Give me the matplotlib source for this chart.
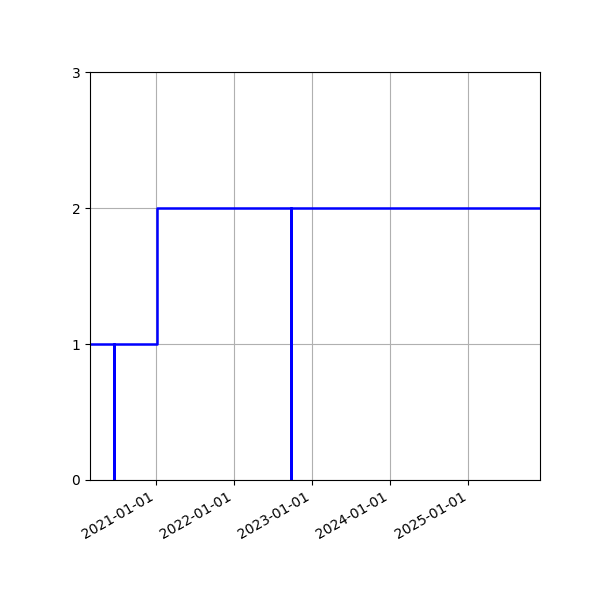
import matplotlib
matplotlib.use("Agg")
import matplotlib.pyplot as plt
import matplotlib.dates as mdates
import numpy as np

dates = np.array(["2020-03-01", "2020-06-23", "2020-06-23", "2021-01-08",
                  "2022-09-26", "2022-09-26", "2025-12-01"], dtype="datetime64[D]")
values = [1, 0, 1, 2, 0, 2, 2]
yticks = [0, 1, 2, 3]

fig, ax = plt.subplots(figsize=(6, 6), dpi=100)
ax.plot(dates, values, drawstyle="steps-post", color="blue", linewidth=1.8)
ax.set_xlim(dates[0], dates[-1])
ax.set_ylim(0, 3)
ax.set_yticks(yticks)
ax.xaxis.set_major_locator(mdates.YearLocator())
ax.xaxis.set_major_formatter(mdates.DateFormatter("%Y-%m-%d"))
ax.grid(True)
fig.autofmt_xdate()
fig.subplots_adjust(left=0.15, right=0.9, bottom=0.2, top=0.88)
fig.savefig("out.png", dpi=100)
